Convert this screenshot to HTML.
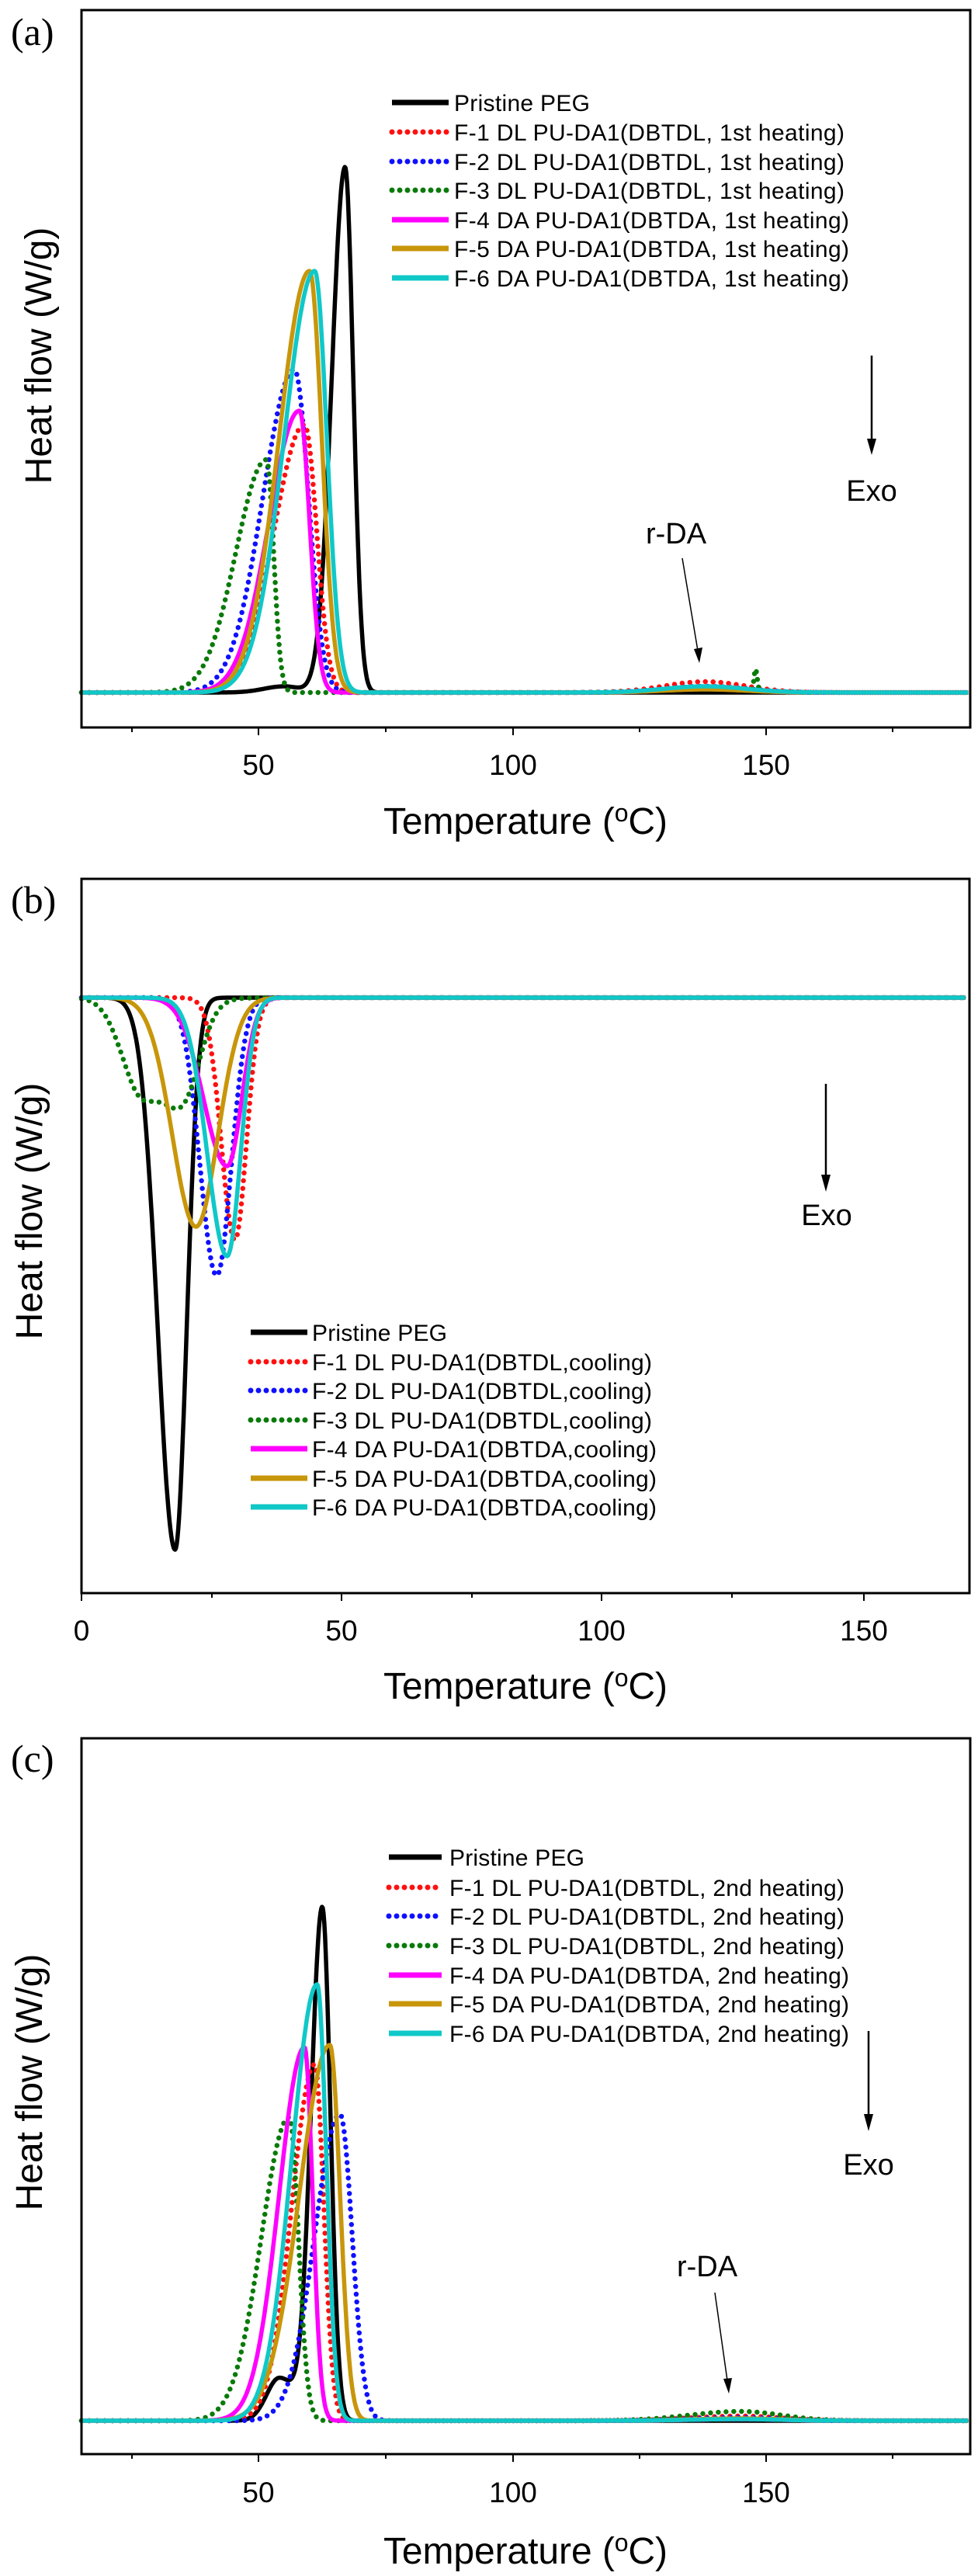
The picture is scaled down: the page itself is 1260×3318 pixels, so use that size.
<!DOCTYPE html>
<html><head><meta charset="utf-8"><style>
html,body{margin:0;padding:0;background:#fff;}
svg{display:block;}
text{font-family:"Liberation Sans",Arial,sans-serif;fill:#000;}
.t{font-size:37px;text-anchor:middle;}
.ti{font-size:48px;text-anchor:middle;}
.lg{font-size:30px;}
.pl{font-family:"Liberation Serif",serif;font-size:50px;}
</style></head><body>
<svg id="s" width="1260" height="3318" viewBox="0 0 1260 3318" xmlns="http://www.w3.org/2000/svg">
<rect width="1260" height="3318" fill="#fff"/>
<!-- Panel a -->
<g id="ga"></g>
<rect x="105" y="13" width="1145" height="924" fill="none" stroke="#000" stroke-width="3"/>
<text class="pl" x="14" y="58">(a)</text>
<text class="t" x="333" y="998">50</text><text class="t" x="661" y="998">100</text><text class="t" x="987" y="998">150</text>
<text class="ti" x="677" y="1074" textLength="366">Temperature (<tspan font-size="32" dy="-16">o</tspan><tspan dy="16">C)</tspan></text>
<text class="ti" transform="translate(66,458) rotate(-90)">Heat flow (W/g)</text>
<g class="lg">
<text x="585" y="143" textLength="175">Pristine PEG</text>
<text x="585" y="181" textLength="503">F-1 DL PU-DA1(DBTDL, 1st heating)</text>
<text x="585" y="219" textLength="503">F-2 DL PU-DA1(DBTDL, 1st heating)</text>
<text x="585" y="256" textLength="503">F-3 DL PU-DA1(DBTDL, 1st heating)</text>
<text x="585" y="294" textLength="509">F-4 DA PU-DA1(DBTDA, 1st heating)</text>
<text x="585" y="331" textLength="509">F-5 DA PU-DA1(DBTDA, 1st heating)</text>
<text x="585" y="369" textLength="509">F-6 DA PU-DA1(DBTDA, 1st heating)</text>
</g>
<text class="t" x="1123" y="645" style="font-size:38px">Exo</text>
<line x1="1123" y1="458" x2="1123" y2="570" stroke="#000" stroke-width="2.5"/><polygon points="1117,565 1129,565 1123,586" fill="#000"/>
<text class="t" x="871" y="700" style="font-size:38px">r-DA</text>
<line x1="879" y1="719" x2="899" y2="838" stroke="#000" stroke-width="1.5"/><polygon points="894,836 905,834 901,854" fill="#000"/>

<!-- Panel b -->
<g id="gb"></g>
<rect x="105" y="1132" width="1144" height="920" fill="none" stroke="#000" stroke-width="3"/>
<text class="pl" x="14" y="1176">(b)</text>
<text class="t" x="105" y="2113">0</text><text class="t" x="440" y="2113">50</text><text class="t" x="775" y="2113">100</text><text class="t" x="1113" y="2113">150</text>
<text class="ti" x="677" y="2188" textLength="366">Temperature (<tspan font-size="32" dy="-16">o</tspan><tspan dy="16">C)</tspan></text>
<text class="ti" transform="translate(54,1560) rotate(-90)">Heat flow (W/g)</text>
<g class="lg">
<text x="402" y="1727" textLength="174">Pristine PEG</text>
<text x="402" y="1765" textLength="438">F-1 DL PU-DA1(DBTDL,cooling)</text>
<text x="402" y="1802" textLength="438">F-2 DL PU-DA1(DBTDL,cooling)</text>
<text x="402" y="1840" textLength="438">F-3 DL PU-DA1(DBTDL,cooling)</text>
<text x="402" y="1877" textLength="444">F-4 DA PU-DA1(DBTDA,cooling)</text>
<text x="402" y="1915" textLength="444">F-5 DA PU-DA1(DBTDA,cooling)</text>
<text x="402" y="1952" textLength="444">F-6 DA PU-DA1(DBTDA,cooling)</text>
</g>
<text class="t" x="1065" y="1578" style="font-size:38px">Exo</text>
<line x1="1064" y1="1396" x2="1064" y2="1518" stroke="#000" stroke-width="2.5"/><polygon points="1058,1513 1070,1513 1064,1535" fill="#000"/>

<!-- Panel c -->
<g id="gc"></g>
<rect x="105" y="2239" width="1145" height="922" fill="none" stroke="#000" stroke-width="3"/>
<text class="pl" x="14" y="2282">(c)</text>
<text class="t" x="333" y="3223">50</text><text class="t" x="661" y="3223">100</text><text class="t" x="987" y="3223">150</text>
<text class="ti" x="677" y="3302" textLength="366">Temperature (<tspan font-size="32" dy="-16">o</tspan><tspan dy="16">C)</tspan></text>
<text class="ti" transform="translate(54,2682) rotate(-90)">Heat flow (W/g)</text>
<g class="lg">
<text x="579" y="2403" textLength="174">Pristine PEG</text>
<text x="579" y="2442" textLength="509">F-1 DL PU-DA1(DBTDL, 2nd heating)</text>
<text x="579" y="2479" textLength="509">F-2 DL PU-DA1(DBTDL, 2nd heating)</text>
<text x="579" y="2517" textLength="509">F-3 DL PU-DA1(DBTDL, 2nd heating)</text>
<text x="579" y="2555" textLength="515">F-4 DA PU-DA1(DBTDA, 2nd heating)</text>
<text x="579" y="2592" textLength="515">F-5 DA PU-DA1(DBTDA, 2nd heating)</text>
<text x="579" y="2630" textLength="515">F-6 DA PU-DA1(DBTDA, 2nd heating)</text>
</g>
<text class="t" x="1119" y="2801" style="font-size:38px">Exo</text>
<line x1="1119" y1="2616" x2="1119" y2="2728" stroke="#000" stroke-width="2.5"/><polygon points="1113,2723 1125,2723 1119,2745" fill="#000"/>
<text class="t" x="911" y="2932" style="font-size:38px">r-DA</text>
<line x1="921" y1="2953" x2="937" y2="3066" stroke="#000" stroke-width="1.5"/><polygon points="932,3064 943,3063 939,3083" fill="#000"/>
</svg>
<script>
var NS="http://www.w3.org/2000/svg";
var COL={k:"#000",r:"#ff1010",b:"#1010ff",g:"#0a7a0a",m:"#ff00ff",o:"#c8960a",c:"#10c8c8"};
function add(g,d,col,dot,w){var p=document.createElementNS(NS,"path");p.setAttribute("d",d);p.setAttribute("fill","none");p.setAttribute("stroke",col);
 p.setAttribute("stroke-width",w||(dot?6.5:5.5));p.setAttribute("stroke-linejoin","round");
 if(dot){p.setAttribute("stroke-dasharray","0 10");p.setAttribute("stroke-linecap","round");}g.appendChild(p);}
function pk(T,c,h,wl,wr){var w=T<c?wl:wr;var z=(T-c)/w;return h*Math.exp(-z*z/2);}
function curve(g,x0,T0,k,Tmax,base,peaks,col,dot,extra,Tstart){
 var d="";for(var T=(Tstart||T0);T<=Tmax;T+=0.15){var y=0;for(var i=0;i<peaks.length;i++){var q=peaks[i];y+=pk(T,q[0],q[1],q[2],q[3]);}
  if(extra)y+=extra(T);var X=x0+(T-T0)*k,Y=base-y;d+=(d?"L":"M")+X.toFixed(1)+","+Y.toFixed(1);}
 add(g,d,col,dot);}
function leg(g,x1,x2,y,col,dot){add(g,"M"+x1+","+y+"L"+x2+","+y,col,dot,7);}
// Panel a
var ga=document.getElementById("ga"),B=892;
var bump=function(a){return function(T){return pk(T,138,a,8,8);}};
curve(ga,105,15,6.53,190,B,[[67,677,2.6,1.6],[55,8,4,3]],COL.k,false,null,35);
curve(ga,105,15,6.53,190,B,[[59,345,6,2.4]],COL.r,true,bump(14));
curve(ga,105,15,6.53,190,B,[[57,416,6.2,2.8]],COL.b,true,bump(8));
curve(ga,105,15,6.53,190,B,[[51.5,300,6,1.4]],COL.g,true,function(T){return bump(6)(T)+pk(T,148,28,0.3,0.3);});
curve(ga,105,15,6.53,190,B,[[58,363,6,2]],COL.m,false,bump(5));
curve(ga,105,15,6.53,190,B,[[60,543,6,2.4]],COL.o,false,bump(4));
curve(ga,105,15,6.53,190,B,[[61,543,6,2.4]],COL.c,false,bump(8));
leg(ga,505,578,132,COL.k);leg(ga,505,578,170,COL.r,1);leg(ga,505,578,208,COL.b,1);leg(ga,505,578,245,COL.g,1);
leg(ga,505,578,283,COL.m);leg(ga,505,578,320,COL.o);leg(ga,505,578,358,COL.c);
// Panel b (negative peaks)
var gb=document.getElementById("gb");B=1285;
curve(gb,105,0,6.7,170,B,[[18,-711,3.3,2.2]],COL.k,false);
curve(gb,105,0,6.7,170,B,[[29.5,-312,2.6,2.2]],COL.r,true);
curve(gb,105,0,6.7,170,B,[[26,-358,3.2,2.8]],COL.b,true);
curve(gb,105,0,6.7,170,B,[[12,-130,4,6],[20,-80,3,3]],COL.g,true);
curve(gb,105,0,6.7,170,B,[[28,-217,4.5,2.8]],COL.m,false);
curve(gb,105,0,6.7,170,B,[[22,-295,4.5,4.2]],COL.o,false);
curve(gb,105,0,6.7,170,B,[[28,-333,3.8,2.6]],COL.c,false);
leg(gb,323,396,1716,COL.k);leg(gb,323,396,1754,COL.r,1);leg(gb,323,396,1791,COL.b,1);leg(gb,323,396,1829,COL.g,1);
leg(gb,323,396,1866,COL.m);leg(gb,323,396,1904,COL.o);leg(gb,323,396,1941,COL.c);
// Panel c
var gc=document.getElementById("gc");B=3118;
var bc=function(a){return function(T){return pk(T,145,a,10,8);}};
curve(gc,105,15,6.53,190,B,[[62.5,661,2.2,1.6],[54,55,2.5,3]],COL.k,false,null,44);
curve(gc,105,15,6.53,190,B,[[61,459,4.5,1.8]],COL.r,true,bc(6));
curve(gc,105,15,6.53,190,B,[[66,395,5,2.4]],COL.b,true,bc(4));
curve(gc,105,15,6.53,190,B,[[56,391,5.5,1.8]],COL.g,true,bc(12));
curve(gc,105,15,6.53,190,B,[[59,481,5,1.6]],COL.m,false,bc(2));
curve(gc,105,15,6.53,190,B,[[64,484,6,2]],COL.o,false,bc(3));
curve(gc,105,15,6.53,190,B,[[61.5,562,5,1.8]],COL.c,false,bc(2));
leg(gc,501,569,2392,COL.k);leg(gc,501,569,2431,COL.r,1);leg(gc,501,569,2468,COL.b,1);leg(gc,501,569,2506,COL.g,1);
leg(gc,501,569,2544,COL.m);leg(gc,501,569,2581,COL.o);leg(gc,501,569,2619,COL.c);
// ticks
function ticks(xs,yb){var g=document.getElementById("s");xs.forEach(function(t){var l=document.createElementNS(NS,"line");
 l.setAttribute("x1",t[0]);l.setAttribute("x2",t[0]);l.setAttribute("y1",yb);l.setAttribute("y2",yb+(t[1]?10:6));l.setAttribute("stroke","#000");l.setAttribute("stroke-width",2);g.appendChild(l);});}
ticks([[170,0],[333,1],[497,0],[661,1],[824,0],[987,1],[1150,0]],937);
ticks([[105,1],[273,0],[440,1],[608,0],[775,1],[943,0],[1113,1]],2052);
ticks([[170,0],[333,1],[497,0],[661,1],[824,0],[987,1],[1150,0]],3161);
</script>
</body></html>
